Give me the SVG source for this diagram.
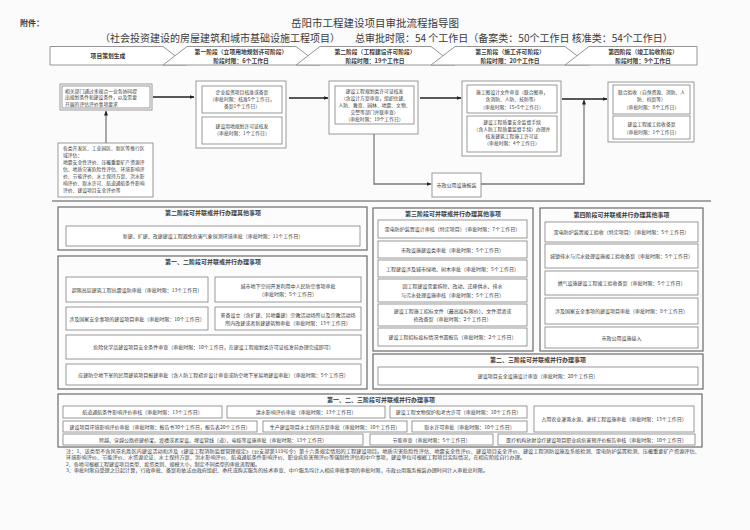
<svg xmlns="http://www.w3.org/2000/svg" width="750" height="530" viewBox="0 0 750 530">
<defs>
<style>
text{font-family:'Noto Sans CJK SC','Noto Sans',sans-serif;fill:#3a3a3a}
.s{font-size:5px;text-anchor:middle}
.m{font-size:4.8px;text-anchor:middle}
.sl{font-size:4.8px}
.n{font-size:4.4px}
.h{font-size:5.8px;font-weight:bold;text-anchor:middle}
.st{font-size:6px;font-weight:bold;text-anchor:middle}
.box{fill:#fff;stroke:#808080;stroke-width:0.8}
.sec{fill:#fcfcfd;stroke:#6a6a6a;stroke-width:1.2}
.hd{fill:#fff;stroke:#8a8a8a;stroke-width:0.9}
.ln{stroke:#222;stroke-width:1.3;fill:none}
.gl{stroke:#7a7a7a;stroke-width:1.3;fill:none}
</style>
<marker id="ar" viewBox="0 0 10 10" refX="9" refY="5" markerWidth="5" markerHeight="5" orient="auto-start-reverse" markerUnits="userSpaceOnUse">
<path d="M0,1 L10,5 L0,9 z" fill="#222"/>
</marker>
</defs>
<rect x="0" y="0" width="750" height="530" fill="#fbfbfc"/>

<g id="title">
<text x="20" y="26" style="font-size:8px;font-weight:bold">附件：</text>
<text x="375" y="27" style="font-size:10.5px;text-anchor:middle">岳阳市工程建设项目审批流程指导图</text>
<text x="100" y="42" style="font-size:10px">（社会投资建设的房屋建筑和城市基础设施工程项目）</text>
<text x="355" y="42" style="font-size:10px">总审批时限：54 个工作日（备案类：50个工作日 核准类：54个工作日）</text>
</g>

<g id="header">
<polygon class="hd" points="50,46.5 163,46.5 187,65 50,65"/>
<polygon class="hd" points="187,46.5 296,46.5 320,65 163,65"/>
<polygon class="hd" points="320,46.5 431,46.5 455,65 296,65"/>
<polygon class="hd" points="455,46.5 565,46.5 589,65 431,65"/>
<polygon class="hd" points="589,46.5 697,46.5 697,65 565,65"/>
<text class="h" x="108" y="58">项目策划生成</text>
<text class="h" x="241" y="54.3">第一阶段（立项用地规划许可阶段）</text>
<text class="h" x="241" y="62.5">阶段时限：6个工作日</text>
<text class="h" x="375" y="54.3">第二阶段（工程建设许可阶段）</text>
<text class="h" x="375" y="62.5">阶段时限：19个工作日</text>
<text class="h" x="510" y="54.3">第三阶段（施工许可阶段）</text>
<text class="h" x="510" y="62.5">阶段时限：20个工作日</text>
<text class="h" x="643" y="54.3">第四阶段（竣工验收阶段）</text>
<text class="h" x="643" y="62.5">阶段时限：9个工作日</text>
</g>

<g id="connectors">
<line class="gl" x1="106" y1="143" x2="106" y2="111" marker-end="url(#ar)"/>
<line class="ln" x1="153" y1="97" x2="194" y2="97" marker-end="url(#ar)"/>
<line class="ln" x1="289" y1="98" x2="328" y2="98" marker-end="url(#ar)"/>
<line class="ln" x1="420" y1="98" x2="461" y2="98" marker-end="url(#ar)"/>
<line class="ln" x1="562" y1="99" x2="607" y2="99" marker-end="url(#ar)"/>
<polyline class="gl" points="374,134 374,184 431,184" marker-end="url(#ar)"/>
<polyline class="gl" points="481,184 584,184 584,100" marker-end="url(#ar)"/>
<line x1="52" y1="201" x2="711" y2="201" stroke="#8a8a8a" stroke-width="1.4"/>
</g>

<g id="plan-a">
<rect class="box" x="60" y="84" width="92" height="26"/>
<rect class="box" x="62" y="86" width="88" height="22"/>
<text class="sl" x="65" y="92.5">相关部门通过多规合一业务协同提</text>
<text class="sl" x="65" y="99.3">出规划条件和建设条件，以及需要</text>
<text class="sl" x="65" y="106">开展的评估评价事项要求</text>
</g>

<g id="plan-b">
<rect class="box" x="58" y="143" width="95" height="54"/>
<text class="sl" x="63" y="150">各类开发区、工业园区、新区等推行区</text>
<text class="sl" x="63" y="157">域评估：</text>
<text class="sl" x="63" y="164">地震安全性评价、压覆重要矿产资源评</text>
<text class="sl" x="63" y="171">估、地质灾害危险性评估、环境影响评</text>
<text class="sl" x="63" y="178">价、节能评价、水土保持方案、洪水影</text>
<text class="sl" x="63" y="185">响评价、取水许可、航道通航条件影响</text>
<text class="sl" x="63" y="192">评价、建设项目安全评价等</text>
</g>

<g id="phase1">
<rect class="box" x="196" y="81" width="90" height="67"/>
<rect class="box" x="202" y="86" width="80" height="27"/>
<text class="m" x="242" y="94">企业投资项目核准或备案</text>
<text class="m" x="242" y="101">（审批时限：核准5个工作日，</text>
<text class="m" x="242" y="108">备案1个工作日）</text>
<rect class="box" x="202" y="117" width="80" height="27"/>
<text class="m" x="242" y="128">建设用地规划许可证核发</text>
<text class="m" x="242" y="135">（审批时限：1个工作日）</text>
</g>

<g id="phase2">
<rect class="box" x="329" y="81" width="89" height="53"/>
<rect class="box" x="335" y="86" width="79" height="38"/>
<text class="m" x="374.5" y="93">建设工程规划类许可证核发</text>
<text class="m" x="374.5" y="100">（含设计方案审查，组织住建、</text>
<text class="m" x="374.5" y="107">人防、教育、园林、地震、文物、</text>
<text class="m" x="374.5" y="114">交警等部门并联审查）</text>
<text class="m" x="374.5" y="121">（审批时限：19个工作日）</text>
</g>

<g id="shizheng">
<rect class="box" x="432" y="173" width="49" height="24"/>
<text class="s" x="456.5" y="187">市政公用设施报装</text>
</g>

<g id="phase3">
<rect class="box" x="462" y="81" width="99" height="75"/>
<rect class="box" x="467" y="85" width="90" height="28"/>
<text class="m" x="512" y="93.5">施工图设计文件审查（联合图审，</text>
<text class="m" x="512" y="101">含消防、人防、技防等）</text>
<text class="m" x="512" y="108.5">（审批时限：15+5个工作日）</text>
<rect class="box" x="467" y="116" width="90" height="36"/>
<text class="m" x="512" y="124">建设工程质量安全监督手续</text>
<text class="m" x="512" y="131">（含人防工程质量监督手续）办理并</text>
<text class="m" x="512" y="138">核发建筑工程施工许可证</text>
<text class="m" x="512" y="145">（审批时限：4个工作日）</text>
</g>

<g id="phase4">
<rect class="box" x="608" y="82" width="86" height="60"/>
<rect class="box" x="613" y="85" width="77" height="29"/>
<text class="m" x="651.5" y="93.5">联合验收（自然资源、消防、人</text>
<text class="m" x="651.5" y="101">防、档案等）</text>
<text class="m" x="651.5" y="109">（审批时限：8个工作日）</text>
<rect class="box" x="613" y="116" width="77" height="23"/>
<text class="m" x="651.5" y="125.5">建设工程竣工验收备案</text>
<text class="m" x="651.5" y="133.5">（审批时限：1个工作日）</text>
</g>

<g id="sec-2">
<rect class="sec" x="58" y="207" width="309" height="43"/>
<text class="st" x="213" y="215">第二阶段可并联或并行办理其他事项</text>
<rect class="box" x="66" y="226" width="294" height="20"/>
<text class="s" x="213" y="238">新建、扩建、改建建设工程避免危害气象探测环境审批（审批时限：11个工作日）</text>
</g>

<g id="sec-12">
<rect class="sec" x="58" y="256" width="309" height="133"/>
<text class="st" x="213" y="264">第一、二阶段可并联或并行办理事项</text>
<rect class="box" x="66" y="277" width="142" height="25"/>
<text class="s" x="137" y="291.5">超限高层建筑工程抗震设防审批（审批时限：13个工作日）</text>
<rect class="box" x="215" y="277" width="146" height="25"/>
<text class="s" x="288" y="287.5">城市地下空间开发利用中人民防空事项审批</text>
<text class="s" x="288" y="296">（审批时限：5个工作日）</text>
<rect class="box" x="66" y="307" width="142" height="23"/>
<text class="s" x="137" y="320.5">涉及国家安全事项的建设项目审批（审批时限：10个工作日）</text>
<rect class="box" x="215" y="307" width="146" height="23"/>
<text class="s" x="288" y="316.5">筹备设立（含扩建、异地重建）宗教活动场所以及宗教活动场</text>
<text class="s" x="288" y="325">所内改建或者新建建筑物审批（审批时限：13个工作日）</text>
<rect class="box" x="66" y="335" width="295" height="24"/>
<text class="s" x="213.5" y="349">危险化学品建设项目安全条件审查（审批时限：10个工作日，在建设工程规划类许可证核发前办理完成即可）</text>
<rect class="box" x="66" y="364" width="295" height="21"/>
<text class="s" x="213.5" y="376.5">应建防空地下室的民用建筑项目报建审批（含人防工程初步设计审查或防空地下室易地建设审批）（审批时限：5个工作日）</text>
</g>

<g id="sec-3">
<rect class="sec" x="373" y="208" width="160" height="143"/>
<text class="st" x="453" y="216">第三阶段可并联或并行办理其他事项</text>
<rect class="box" x="378" y="220" width="149" height="18"/>
<text class="s" x="452.5" y="231">雷电防护装置设计审核（特定项目）（审批时限：7个工作日）</text>
<rect class="box" x="378" y="241" width="149" height="17"/>
<text class="s" x="452.5" y="251.5">市政设施建设类审批（审批时限：5个工作日）</text>
<rect class="box" x="378" y="260" width="149" height="17"/>
<text class="s" x="452.5" y="270.5">工程建设涉及城市绿地、树木审批（审批时限：5个工作日）</text>
<rect class="box" x="378" y="279" width="149" height="23"/>
<text class="s" x="452.5" y="288.3">因工程建设需要拆除、改动、迁移供水、排水</text>
<text class="s" x="452.5" y="296.5">与污水处理设施审核（审批时限：5个工作日）</text>
<rect class="box" x="378" y="304" width="149" height="22"/>
<text class="s" x="452.5" y="312.8">建设工程施工招标文件（最高投标限价）、文件澄清或</text>
<text class="s" x="452.5" y="321">修改备案（审批时限：2个工作日）</text>
<rect class="box" x="378" y="328" width="149" height="18"/>
<text class="s" x="452.5" y="339">建设工程招标投标情况书面报告（审批时限：2个工作日）</text>
</g>

<g id="sec-4">
<rect class="sec" x="540" y="208" width="163" height="143"/>
<text class="st" x="621.5" y="217">第四阶段可并联或并行办理其他事项</text>
<rect class="box" x="545" y="222" width="153" height="20"/>
<text class="s" x="621.5" y="234">雷电防护装置竣工验收（特定项目）（审批时限：5个工作日）</text>
<rect class="box" x="545" y="244" width="153" height="24"/>
<text class="s" x="621.5" y="258">城镇排水与污水处理设施竣工验收备案（审批时限：5个工作日）</text>
<rect class="box" x="545" y="271" width="153" height="24"/>
<text class="s" x="621.5" y="285">燃气设施建设工程竣工验收备案（审批时限：5个工作日）</text>
<rect class="box" x="545" y="298" width="153" height="26"/>
<text class="s" x="621.5" y="313">涉及国家安全事项的建设项目审批（审批时限：8个工作日）</text>
<rect class="box" x="545" y="327" width="153" height="21"/>
<text class="s" x="621.5" y="339.5">市政公用设施接入</text>
</g>

<g id="sec-23">
<rect class="sec" x="373" y="354" width="330" height="35"/>
<text class="st" x="538" y="362">第二、三阶段可并联或并行办理事项</text>
<rect class="box" x="378" y="367" width="320" height="18"/>
<text class="s" x="538" y="378">建设项目安全设施设计审查（审批时限：20个工作日）</text>
</g>

<g id="sec-123">
<rect class="sec" x="58" y="394" width="644" height="53"/>
<text class="st" x="381" y="402">第一、二、三阶段可并联或并行办理事项</text>
<rect class="box" x="63" y="406" width="159" height="12"/>
<text class="s" x="142.5" y="414">航道通航条件影响评价审核（审批时限：13个工作日）</text>
<rect class="box" x="227" y="406" width="158" height="12"/>
<text class="s" x="306" y="414">洪水影响评价审批（审批时限：13个工作日）</text>
<rect class="box" x="390" y="406" width="137" height="12"/>
<text class="s" x="458.5" y="414">建设工程文物保护和考古许可（审批时限：10个工作日）</text>
<rect class="box" x="534" y="406" width="160" height="26"/>
<text class="s" x="614" y="421">占用农业灌溉水源、灌排工程设施审批（审批时限：13个工作日）</text>
<rect class="box" x="63" y="421" width="194" height="11"/>
<text class="s" x="160" y="428.5">建设项目环境影响评价审批（审批时限：报告书30个工作日，报告表20个工作日）</text>
<rect class="box" x="263" y="421" width="144" height="11"/>
<text class="s" x="335" y="428.5">生产建设项目水土保持方案审批（审批时限：10个工作日）</text>
<rect class="box" x="412" y="421" width="115" height="11"/>
<text class="s" x="469.5" y="428.5">取水许可审批（审批时限：10个工作日）</text>
<rect class="box" x="63" y="434" width="300" height="11"/>
<text class="s" x="213" y="441.5">跨越、穿越公路修建桥梁、渡槽或者架设、埋设管线（道）、电缆等设施审批（审批时限：13个工作日）</text>
<rect class="box" x="370" y="434" width="123" height="11"/>
<text class="s" x="431.5" y="441.5">节能审查（审批时限：5个工作日）</text>
<rect class="box" x="498" y="434" width="197" height="11"/>
<text class="s" x="596.5" y="441.5">医疗机构放射诊疗建设项目职业病危害预评价报告审核（审批时限：10个工作日）</text>
</g>

<g id="notes">
<text class="n" x="66" y="453" textLength="634" lengthAdjust="spacingAndGlyphs">注：1、该类型不含风景名胜区内建设活动和涉及《建设工程消防监督管理规定》（公安部第119号令）第十六条规定情形的工程建设项目。地质灾害危险性评估、地震安全性评价、建设项目安全评价、建设工程消防设施及系统检测、雷电防护装置检测、压覆重要矿产资源评估、</text>
<text class="n" x="66" y="459.4" textLength="459" lengthAdjust="spacingAndGlyphs">环境影响评价、节能评价、水资源论证、水土保持方案、洪水影响评价、航道通航条件影响评价、职业病危害预评价等强制性评估和中介事项，建设单位可根据工程项目实际情况，在相应阶段自行办理。</text>
<text class="n" x="66" y="465.8" textLength="194" lengthAdjust="spacingAndGlyphs">2、各地可根据工程建设项目类型、投资类别、规模大小，制定不同类型的审批流程图。</text>
<text class="n" x="66" y="472.2" textLength="422" lengthAdjust="spacingAndGlyphs">3、审批时限自受理之日起计算，行政审批、备案和依法由政府组织、委托或购买服务的技术审查、中介服务均计入相应审批事项的审批时限，市政公用服务报装办理时间计入审批总时限。</text>
</g>
</svg>
